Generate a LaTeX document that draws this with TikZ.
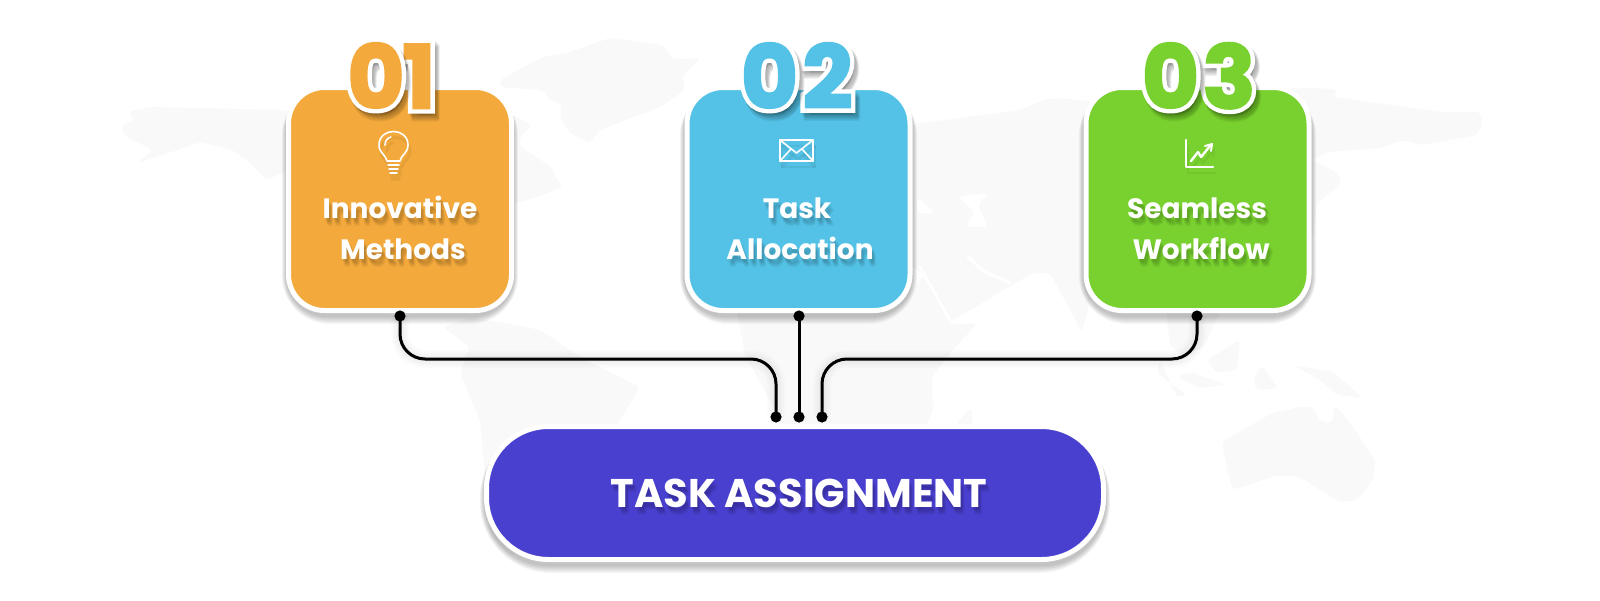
\documentclass[tikz,border=0pt]{standalone}
\usepackage{fontspec}
\setmainfont{Poppins}
\newfontfamily\numout[FakeBold=13]{Poppins}
\newfontfamily\numfill[FakeBold=3]{Poppins}
\definecolor{cardorange}{HTML}{F3A93C}
\definecolor{cardblue}{HTML}{54C2E6}
\definecolor{cardgreen}{HTML}{78D12E}
\definecolor{pillblue}{HTML}{4A40D0}
\definecolor{mapgrey}{HTML}{F9F9F9}
\tikzset{
  x=0.5pt,y=-0.5pt,
  mapland/.style={fill=mapgrey,rounded corners=2pt},
  mapgap/.style={draw=white,line width=1.5pt,line cap=round,line join=round},
  card/.style={rectangle,draw=white,line width=2.5pt,rounded corners=18pt,minimum width=111.5pt,minimum height=111.5pt,inner sep=0pt},
  pill/.style={rectangle,draw=white,line width=2.5pt,fill=pillblue,rounded corners=31pt,minimum width=308.5pt,minimum height=66.5pt,inner sep=0pt},
  plaintext/.style={inner sep=0pt,anchor=base},
  dot/.style={circle,fill=black,minimum size=5.6pt,inner sep=0pt},
  wire/.style={draw=black,line width=1.5pt,rounded corners=12.5pt},
  wireshadow/.style={draw=black,opacity=.01,rounded corners=12.5pt,yshift=-4pt},
  icon/.style={draw=white,line width=.8pt,line cap=round,line join=round},
  iconshadow/.style={draw=black,opacity=.05,line width=1.6pt,xshift=1pt,yshift=-3pt,line cap=round,line join=round},
}
\newcommand\softbox[5]{%
  \foreach \g in {0,...,7}{%
    \pgfmathsetmacro\rr{(#5+\g)*0.5}%
    \pgfmathsetmacro\ss{\g*0.6}%
    \fill[black,opacity=.032,rounded corners=\rr pt]
      ({#1-\ss},{#2+3}) rectangle ({#3+\ss},{#4+\g+4});
  }%
}
\newcommand\softlabel[5]{% size, x, y, name, text
  \foreach \dx/\dy in {1/3,2/4,3/5,2/6,4/7,3/8}{%
    \node[plaintext,text=black,text opacity=.04,font=\fontsize{#1}{#1}\selectfont\bfseries] at ({#2+\dx},{#3+\dy}) {#5};
  }%
  \node[plaintext,text=white,font=\fontsize{#1}{#1}\selectfont\bfseries] (#4) at (#2,#3) {#5};
}
\newcommand\bigdigit[5]{% x, y, colour, name, digit
  \foreach \dx/\dy in {1/2,2/3,3/4,4/5,5/6,3/7,4/8}{%
    \node[plaintext,text=black,text opacity=.05,font=\numout\fontsize{43.5}{43.5}\selectfont\bfseries] at ({#1+\dx},{#2+\dy}) {#5};
  }%
  \node[plaintext,text=white,font=\numout\fontsize{43.5}{43.5}\selectfont\bfseries] at (#1,#2) {#5};
  \node[plaintext,text=#3,font=\numfill\fontsize{43.5}{43.5}\selectfont\bfseries] (#4) at (#1,#2) {#5};
}
\begin{document}
\begin{tikzpicture}
\useasboundingbox (0,0) rectangle (1600,600);
\fill[white] (0,0) rectangle (1600,600);
% world map
\fill[mapland] (128,112)--(150,107)--(287,110)--(330,130)--(400,170)--(420,200)--(517,203)--(537,197)--(563,187)--(555,177)--(553,168)--(520,147)--(520,137)--(532,125)--(517,117)--(480,100)--(420,100)--(330,150)--(267,180)--(250,163)--(233,150)--(200,142)--(177,150)--(137,163)--(153,150)--(127,137)--(120,127)--(135,120)--cycle;
\fill[mapland] (500,80)--(543,57)--(567,53)--(610,38)--(663,45)--(673,60)--(700,58)--(682,77)--(685,90)--(660,107)--(600,130)--(590,143)--(570,133)--(560,117)--(562,105)--(550,100)--(543,90)--(500,87)--cycle;
\fill[mapland] (500,322)--(540,330)--(580,357)--(640,387)--(620,420)--(600,470)--(560,530)--(510,556)--(490,535)--(480,420)--(460,373)--(470,347)--(443,327)--(470,318)--cycle;
\fill[mapland] (908,125)--(1020,110)--(1043,100)--(1060,98)--(1095,102)--(1200,90)--(1317,88)--(1338,90)--(1332,97)--(1443,112)--(1480,112)--(1482,123)--(1477,135)--(1420,145)--(1403,140)--(1380,148)--(1327,152)--(1313,160)--(1337,173)--(1342,183)--(1317,203)--(1313,237)--(1280,260)--(1230,300)--(1200,310)--(1170,305)--(1120,290)--(1090,300)--(1082,332)--(1050,273)--(1033,273)--(1012,285)--(950,322)--(925,275)--(900,260)--(900,130)--cycle;
\fill[mapland] (735,300)--(910,290)--(925,275)--(950,325)--(977,323)--(947,357)--(932,377)--(933,410)--(920,440)--(880,470)--(800,470)--(770,400)--(745,355)--cycle;
\fill[mapland] (955,425)--(971,408)--(973,425)--(958,440)--cycle;
\fill[mapland] (1222,443)--(1233,435)--(1273,413)--(1300,407)--(1313,407)--(1320,422)--(1332,423)--(1335,405)--(1353,427)--(1375,460)--(1373,480)--(1357,500)--(1340,502)--(1320,490)--(1300,477)--(1277,475)--(1233,490)--(1228,473)--cycle;
\fill[mapland] (1207,360)--(1240,340)--(1237,370)--(1217,373)--cycle;
\fill[mapland] (1157,373)--(1160,360)--(1177,397)--(1187,395)--cycle;
\fill[mapland] (1177,377)--(1190,372)--(1228,385)--(1200,388)--cycle;
\fill[mapland] (1253,380)--(1262,365)--(1278,388)--(1257,390)--cycle;
\fill[mapland] (1293,365)--(1333,372)--(1363,398)--(1337,395)--(1320,380)--cycle;
\fill[mapland] (1165,300)--(1170,345)--(1185,358)--(1205,345)--(1225,300)--cycle;
\fill[white,rounded corners=2pt] (958,197)--(988,193)--(978,205)--(988,227)--(965,227)--(975,212)--cycle;
\fill[white,rounded corners=2pt] (917,197)--(935,213)--(917,213)--cycle;
\draw[mapgap] (920,267)--(950,320);
\draw[mapgap] (968,257)--(985,272)--(1010,283);
% shadows of the boxes
\softbox{286}{85}{514}{313}{41}
\softbox{684}{85}{913}{313}{41}
\softbox{1083}{85}{1312}{313}{41}
\softbox{484}{424}{1106}{562}{64}
% boxes
\node[card,fill=cardorange] (cardA) at (400,199) {};
\node[card,fill=cardblue] (cardB) at (798.5,199) {};
\node[card,fill=cardgreen] (cardC) at (1197.5,199) {};
\node[pill] (goal) at (795,493) {};
% connector ends
\node[dot] (startA) at (400,316) {};
\node[dot] (startB) at (799,316) {};
\node[dot] (startC) at (1197,316) {};
\node[dot] (endA) at (776,417) {};
\node[dot] (endB) at (799,417) {};
\node[dot] (endC) at (822,417) {};
\coordinate (railY) at (0,359);
% connector shadows
\foreach \w in {1.5,3,4.5,6,7.5,9}{
  \draw[wireshadow,line width=\w pt] (startA.center)--(startA.center |- railY)--(endA.center |- railY)--(endA.center);
  \draw[wireshadow,line width=\w pt] (startC.center)--(startC.center |- railY)--(endC.center |- railY)--(endC.center);
}
% connectors
\draw[wire] (startA.center)--(startA.center |- railY)--(endA.center |- railY)--(endA.center);
\draw[wire] (startB.center)--(endB.center);
\draw[wire] (startC.center)--(startC.center |- railY)--(endC.center |- railY)--(endC.center);
% numbers
\bigdigit{419}{108}{cardorange}{numAb}{1}
\bigdigit{376}{108}{cardorange}{numAa}{0}
\bigdigit{827.5}{108}{cardblue}{numBb}{2}
\bigdigit{769.5}{108}{cardblue}{numBa}{0}
\bigdigit{1229}{108}{cardgreen}{numCb}{3}
\bigdigit{1170.5}{108}{cardgreen}{numCa}{0}
% bulb icon
\foreach \s in {iconshadow,icon}{
  \draw[\s] (387,161) .. controls (386,155) and (379,153) .. (379,145) .. controls (379,127) and (408,127) .. (408,145) .. controls (408,153) and (401,155) .. (400,161) -- cycle;
  \draw[\s] (385,145) .. controls (385,141) and (387,138) .. (391,137);
  \draw[\s] (388,165)--(399,165);
  \draw[\s] (389,169)--(398,169);
  \draw[\s] (390,173)--(397,173);
}
% envelope icon
\foreach \s in {iconshadow,icon}{
  \draw[\s,line width=1pt] (780,140) rectangle (813,161);
  \draw[\s] (780,140)--(796.5,153)--(813,140);
  \draw[\s] (780,161)--(791,149);
  \draw[\s] (813,161)--(802,149);
}
% chart icon
\foreach \s in {iconshadow,icon}{
  \draw[\s,line width=1.3pt] (1186,140)--(1186,167)--(1213,167);
  \draw[\s,line width=1.2pt] (1191,161)--(1198,152)--(1201,157)--(1210,146);
  \draw[\s,line width=1pt] (1205,146)--(1212,144)--(1211,151);
}
% labels
\softlabel{14}{400}{218}{textAa}{Innovative}
\softlabel{14}{403}{259}{textAb}{Methods}
\softlabel{14}{797}{218}{textBa}{Task}
\softlabel{14}{800}{259}{textBb}{Allocation}
\softlabel{14}{1197}{218}{textCa}{Seamless}
\softlabel{14}{1201}{259}{textCb}{Workflow}
\softlabel{20}{799}{507}{textGoal}{TASK ASSIGNMENT}
\end{tikzpicture}
\end{document}
